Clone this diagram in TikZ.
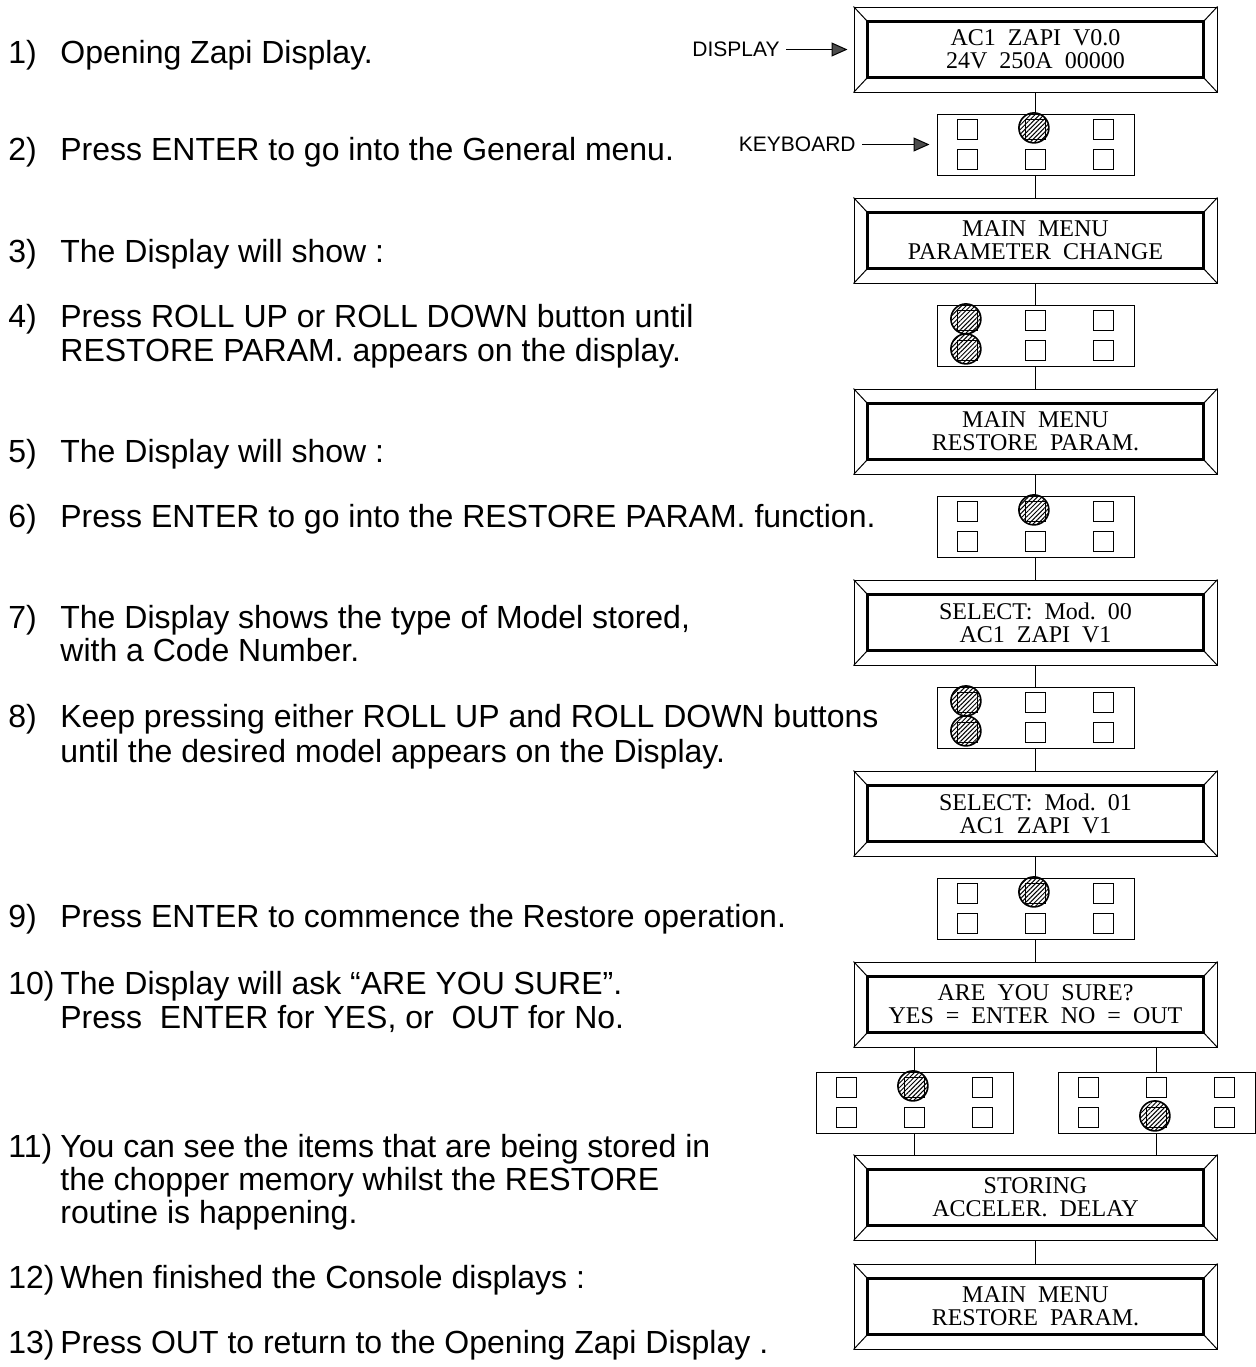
\documentclass[tikz,border=0pt]{standalone}
\usepackage{fontspec}
\setmainfont{Liberation Sans}
\newfontfamily\lcdfont{Liberation Serif}
\usetikzlibrary{arrows.meta,positioning,patterns.meta}

% six keys of a keypad node
\newcommand{\keypad}[1]{%
  \foreach \kx in {-34pt,0pt,34pt}
    \foreach \ky in {-7.5pt,7.5pt}
      \draw[keysq] ([shift={(\kx,\ky)}]#1.center) ++(-5pt,-5pt) rectangle ++(10pt,10pt);}
% a pressed key
\newcommand{\press}[3]{%
  \draw[keyhit] ([shift={(#2-0.8pt,#3+0.8pt)}]#1.center) circle[radius=7.5pt];}

\begin{document}
\begin{tikzpicture}[x=0.5pt,y=-0.5pt,
    lcd/.style={draw,line width=0.5pt,minimum width=181.5pt,minimum height=42.5pt,inner sep=0pt,
      align=center,font=\lcdfont\fontsize{12}{11.6}\selectfont},
    pad/.style={draw,line width=0.5pt,minimum width=98.5pt,minimum height=30.5pt,inner sep=0pt},
    keysq/.style={line width=0.5pt},
    keyhit/.style={line width=0.8pt,pattern={Lines[angle=45,distance=1.6pt,line width=0.5pt]}},
    link/.style={line width=0.5pt},
    txt/.style={anchor=base west,inner sep=0pt,font=\fontsize{16}{18}\selectfont},
    lbl/.style={anchor=east,inner sep=0pt,font=\fontsize{10.5}{12}\selectfont},
    ptr/.style={-{Triangle[length=8pt,width=7pt,fill=black!70]},line width=0.5pt}]
  \useasboundingbox (0,0) rectangle (1255,1367);

  % display / keypad column
  \node[lcd] (d1) at (1035.5,49.5) {AC1\ \ ZAPI\ \ V0.0\\24V\ \ 250A\ \ 00000};
  \node[pad,below=10.5pt of d1] (k1) {};
  \node[lcd,below=11pt of k1] (d2) {MAIN\ \ MENU\\PARAMETER\ \ CHANGE};
  \node[pad,below=10.5pt of d2] (k2) {};
  \node[lcd,below=11pt of k2] (d3) {MAIN\ \ MENU\\RESTORE\ \ PARAM.};
  \node[pad,below=10.5pt of d3] (k3) {};
  \node[lcd,below=11pt of k3] (d4) {SELECT:\ \ Mod.\ \ 00\\AC1\ \ ZAPI\ \ V1};
  \node[pad,below=10.5pt of d4] (k4) {};
  \node[lcd,below=11pt of k4] (d5) {SELECT:\ \ Mod.\ \ 01\\AC1\ \ ZAPI\ \ V1};
  \node[pad,below=10.5pt of d5] (k5) {};
  \node[lcd,below=11pt of k5] (d6) {ARE\ \ YOU\ \ SURE?\\YES\ \ =\ \ ENTER\ \ NO\ \ =\ \ OUT};
  \node[pad,below=12pt of d6,xshift=-60.5pt] (k6a) {};
  \node[pad,below=12pt of d6,xshift=60.5pt] (k6b) {};
  \node[lcd,below=53.5pt of d6] (d7) {STORING\\ACCELER.\ \ DELAY};
  \node[lcd,below=11.5pt of d7] (d8) {MAIN\ \ MENU\\RESTORE\ \ PARAM.};

  % bevelled frames
  \foreach \d in {d1,d2,d3,d4,d5,d6,d7,d8} {
    \draw[line width=1.5pt] ([shift={(7pt,-7.5pt)}]\d.north west) rectangle ([shift={(-7pt,7.5pt)}]\d.south east);
    \draw[link] (\d.north west) -- ++(7pt,-7.5pt) (\d.north east) -- ++(-7pt,-7.5pt)
      (\d.south west) -- ++(7pt,7.5pt) (\d.south east) -- ++(-7pt,7.5pt);
  }

  % keys
  \foreach \k in {k1,k2,k3,k4,k5,k6a,k6b} {\keypad{\k}}
  \press{k1}{0pt}{7.5pt}
  \press{k2}{-34pt}{7.5pt} \press{k2}{-34pt}{-7.5pt}
  \press{k3}{0pt}{7.5pt}
  \press{k4}{-34pt}{7.5pt} \press{k4}{-34pt}{-7.5pt}
  \press{k5}{0pt}{7.5pt}
  \press{k6a}{0pt}{7.5pt}
  \press{k6b}{0pt}{-7.5pt}

  % links
  \draw[link] (d1) -- (k1) (k1) -- (d2) (d2) -- (k2) (k2) -- (d3) (d3) -- (k3) (k3) -- (d4)
    (d4) -- (k4) (k4) -- (d5) (d5) -- (k5) (k5) -- (d6) (d7) -- (d8);
  \draw[link] (d6.south -| k6a) -- (k6a) -- (d7.north -| k6a);
  \draw[link] (d6.south -| k6b) -- (k6b) -- (d7.north -| k6b);

  % pointers
  \node[lbl] (dlbl) at (780,49.5) {DISPLAY};
  \node[lbl] (klbl) at (856,144.5) {KEYBOARD};
  \draw[ptr] ([xshift=3pt]dlbl.east) -- ([xshift=-3pt]d1.west);
  \draw[ptr] ([xshift=3pt]klbl.east) -- ([xshift=-3.5pt]k1.west);

  % steps
  \foreach \y/\n/\t in {63/1)/Opening Zapi Display.,
      160/2)/Press ENTER to go into the General menu.,
      262/3)/The Display will show :,
      327/4)/Press ROLL UP or ROLL DOWN button until,
      361//RESTORE PARAM. appears on the display.,
      462/5)/The Display will show :,
      527/6)/Press ENTER to go into the RESTORE PARAM. function.,
      628/7)/{The Display shows the type of Model stored,},
      661//with a Code Number.,
      727/8)/Keep pressing either ROLL UP and ROLL DOWN buttons,
      762//until the desired model appears on the Display.,
      927/9)/Press ENTER to commence the Restore operation.,
      994/10)/The Display will ask “ARE YOU SURE”.,
      1028//{Press\ \ ENTER for YES, or\ \ OUT for No.},
      1157/11)/You can see the items that are being stored in,
      1190//the chopper memory whilst the RESTORE,
      1223//routine is happening.,
      1288/12)/When finished the Console displays :,
      1353/13)/Press OUT to return to the Opening Zapi Display .} {
    \node[txt] (n\y) at (8,\y) {\n};
    \node[txt] (s\y) at (60,\y) {\t};
  }
\end{tikzpicture}
\end{document}
